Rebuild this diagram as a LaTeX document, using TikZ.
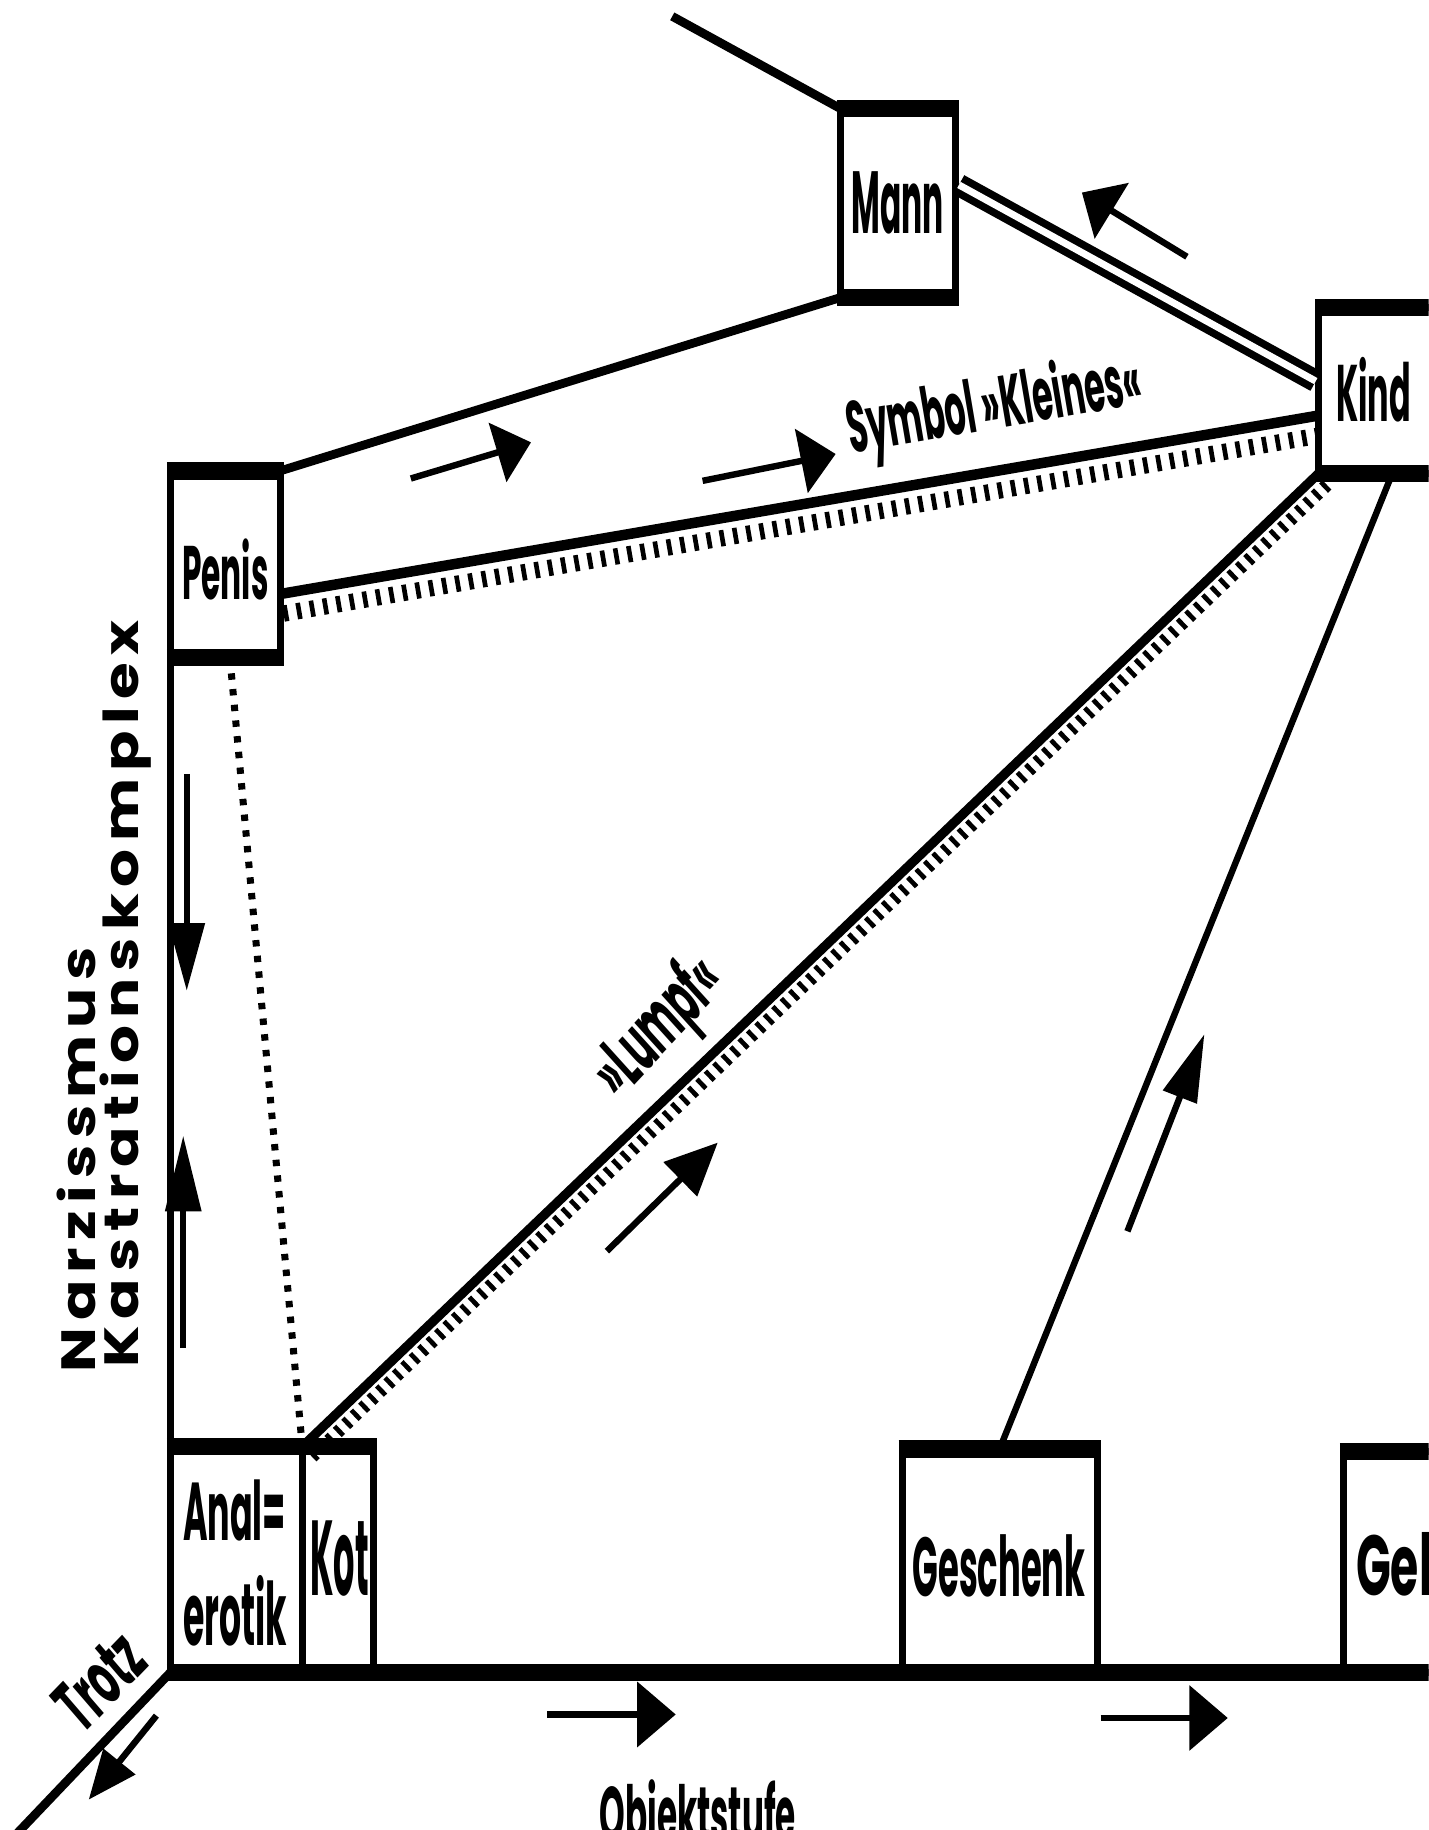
\documentclass[tikz,border=0pt]{standalone}
\usepackage{fontspec}
\usetikzlibrary{arrows.meta,calc}
\newfontfamily\labfont{Poppins}
\newfontfamily\spacedfont[LetterSpace=12]{Poppins}
\newcommand{\lbl}[3]{\resizebox{#1pt}{#2pt}{\labfont\bfseries #3}}
\newcommand{\vlbl}[3]{\resizebox{#1pt}{#2pt}{\spacedfont\bfseries #3}}
\tikzset{
  fbox/.style={draw, line width=6pt, inner sep=0pt, outer sep=0pt},
  bar/.style={line width=15pt, shorten <=-3pt, shorten >=-3pt},
  link/.style={line width=7.5pt},
  txt/.style={inner sep=0pt, outer sep=0pt},
  ticksA/.style={line width=14pt, dash pattern=on 4pt off 7.5pt},
  ticksB/.style={line width=11pt, dash pattern=on 4pt off 6pt},
  dotline/.style={line width=6pt, dash pattern=on 5.5pt off 8pt},
  arr/.style n args={2}{line width=5.5pt, -{Triangle[length=#1pt, width=#2pt]}}
}
\begin{document}
\begin{tikzpicture}[x=1pt,y=-1pt]
\useasboundingbox (0,0) rectangle (1224,1568);
\fill[white] (0,0) rectangle (1224,1568);
\clip (0,0) rectangle (1224,1568);

% boxes
\node[fbox, minimum width=99pt, minimum height=162pt] (mann) at (769.5,174) {};
\node[fbox, minimum width=94pt, minimum height=160pt] (penis) at (193,483.5) {};
\node[fbox, minimum width=170pt, minimum height=142pt] (kind) at (1215,334.5) {};
\node[fbox, minimum width=113pt, minimum height=193.5pt] (anal) at (202.5,1336.25) {};
\node[fbox, minimum width=61pt, minimum height=193.5pt] (kot) at (289.5,1336.25) {};
\node[fbox, minimum width=167pt, minimum height=191.5pt] (geschenk) at (856.5,1337.25) {};
\node[fbox, minimum width=170pt, minimum height=189.5pt] (geld) at (1236,1338.25) {};

% thick top / bottom bars
\draw[bar] (mann.north west) -- (mann.north east);
\draw[bar] (mann.south west) -- (mann.south east);
\draw[bar] (penis.north west) -- (penis.north east);
\draw[bar] (penis.south west) -- (penis.south east);
\draw[bar] (kind.north west) -- (kind.north east);
\draw[bar] (kind.south west) -- (kind.south east);
\draw[bar] (anal.north west) -- (kot.north east);
\draw[bar] (geschenk.north west) -- (geschenk.north east);
\draw[bar] (geld.north west) -- (geld.north east);

% base line and Trotz axis
\coordinate (corner) at (143,1433);
\coordinate (baseend) at (1260,1433);
\coordinate (trotzend) at (6,1580);
\coordinate (mtop) at (576,14);
\draw[line width=15pt] (corner) -- (baseend);
\draw[link] ([xshift=3pt]corner) -- (trotzend);

% connectors
\draw[line width=6pt] (penis.south west) -- (anal.north west);
\draw[link] (mann.north west) -- (mtop);
\draw[link] (penis.north east) -- (mann.south west);
\draw[line width=6.5pt, double=white, double distance=6pt, shorten <=3pt, shorten >=3pt]
  ([yshift=17pt]mann.east) -- ([yshift=6.5pt]kind.west);

\coordinate (pk1) at ([yshift=-25.5pt]penis.east);
\coordinate (pk2) at ([yshift=-21.5pt]kind.west);
\draw[line width=9pt] (pk1) -- (pk2);
\draw[ticksA] ($(pk1)!17pt!-90:(pk2)$) -- ($(pk2)!17pt!90:(pk1)$);

\draw[line width=8pt] (kot.north west) -- (kind.south west);
\draw[ticksB] ($(kot.north west)!12pt!-90:(kind.south west)$) -- ($(kind.south west)!12pt!90:(kot.north west)$);

\draw[dotline] ([xshift=4pt]penis.south) -- (kot.north west);
\draw[line width=5.5pt] (geschenk.north) -- ([xshift=63pt]kind.south west);

% direction arrows
\draw[arr={30}{52}] (352,410) -- (455,379);
\draw[arr={30}{55}] (602,412) -- (716,389);
\draw[arr={30}{55}] (1017,220) -- (927,165);
\draw[arr={58}{30}] (160,663) -- (160,849);
\draw[arr={65}{30}] (157,1155) -- (157,973);
\draw[arr={45}{40}] (520,1072) -- (615,979);
\draw[arr={58}{30}] (966,1055) -- (1032,886);
\draw[arr={33}{55}] (469,1469) -- (579,1469);
\draw[arr={33}{55}] (943,1472) -- (1052,1472);
\draw[arr={42}{34}] (134,1470) -- (76,1542);

% texts
\node[txt, anchor=base] (tMann) at (769,200) {\lbl{79}{53}{Mann}};
\node[txt, anchor=base] (tPenis) at (193,514) {\lbl{74}{52}{Penis}};
\node[txt, anchor=base] (tKind) at (1177,361) {\lbl{64}{55}{Kind}};
\node[txt, anchor=base] (tAnal) at (201,1320) {\lbl{88}{52}{Anal=}};
\node[txt, anchor=base] (tErotik) at (201.5,1410) {\lbl{89}{60}{erotik}};
\node[txt, anchor=base] (tKot) at (291,1367) {\lbl{50}{64}{Kot}};
\node[txt, anchor=base] (tGeschenk) at (856,1368) {\lbl{148}{53}{Geschenk}};
\node[txt, anchor=base west] (tGeld) at (1162,1367) {\lbl{92}{54}{Geld}};
\node[txt, anchor=base, rotate=9.6] (tSymbol) at (855,367) {\lbl{255}{50}{Symbol »Kleines«}};
\node[txt, anchor=base, rotate=47] (tLumpf) at (578,893) {\lbl{136}{50}{\itshape »Lumpf«}};
\node[txt, anchor=base, rotate=46] (tTrotz) at (101,1456) {\lbl{84}{44}{\itshape Trotz}};
\node[txt, anchor=base] (tObjekt) at (598,1578) {\lbl{168}{53}{Objektstufe}};
\node[txt, anchor=base west, rotate=90] (tNarz) at (82,1176) {\vlbl{364}{33}{Narzissmus}};
\node[txt, anchor=base west, rotate=90] (tKastr) at (119,1172) {\vlbl{640}{33}{Kastrationskomplex}};
\end{tikzpicture}
\end{document}
